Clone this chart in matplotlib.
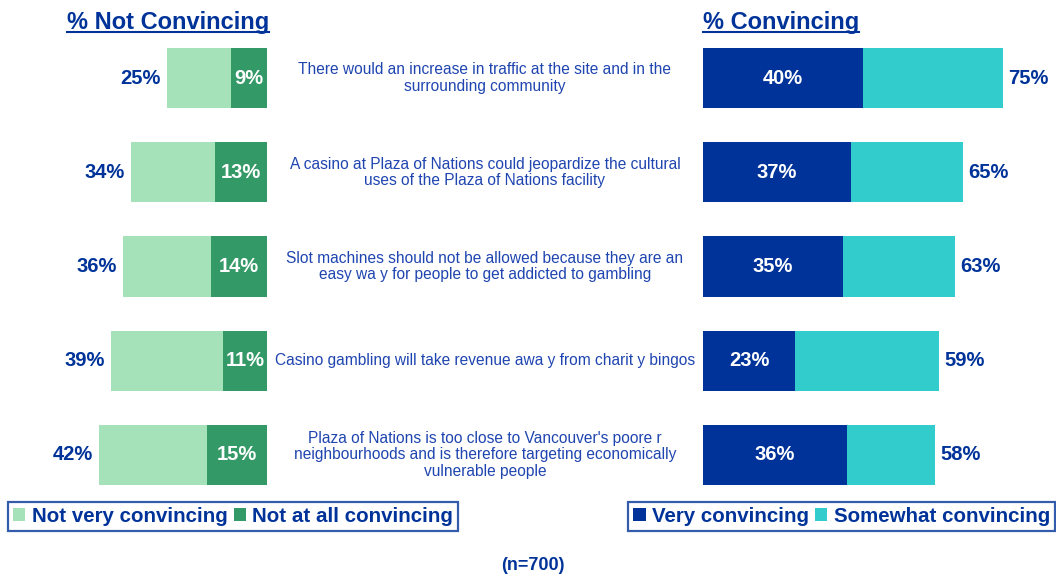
import matplotlib
matplotlib.use('Agg')
import matplotlib.pyplot as plt
from matplotlib.lines import Line2D

plt.rcParams['font.family'] = ['Liberation Sans', 'DejaVu Sans']

statements = [
    "There would an increase in traffic at the site and in the\nsurrounding community",
    "A casino at Plaza of Nations could jeopardize the cultural\nuses of the Plaza of Nations facility",
    "Slot machines should not be allowed because they are an\neasy wa y for people to get addicted to gambling",
    "Casino gambling will take revenue awa y from charit y bingos",
    "Plaza of Nations is too close to Vancouver's poore r\nneighbourhoods and is therefore targeting economically\nvulnerable people",
]
not_conv_total = [25, 34, 36, 39, 42]
not_at_all = [9, 13, 14, 11, 15]
very_conv = [40, 37, 35, 23, 36]
conv_total = [75, 65, 63, 59, 58]

BLUE = '#003399'
TXT = '#1f45b0'
LGREEN = '#a6e2b9'
DGREEN = '#339966'
CYAN = '#33cccc'

W, H = 1056, 576
fig = plt.figure(figsize=(W / 100, H / 100), dpi=100)

ypos = list(range(len(statements)))
ylim = (4 + 1.284, -0.828)
bh = 0.64
PFS = 14.5

# left panel: bars grow leftwards from x=267px
axl = fig.add_axes([0, 0, 267 / W, 1])
axl.set_xlim(267 / 4, 0)
axl.set_ylim(*ylim)
axl.barh(ypos, not_conv_total, height=bh, color=LGREEN, label='Not very convincing')
axl.barh(ypos, not_at_all, height=bh, color=DGREEN, label='Not at all convincing')
for y, t, d in zip(ypos, not_conv_total, not_at_all):
    axl.text(t + 1.5, y, f"{t}%", ha='right', va='center', color=BLUE,
             fontsize=PFS, fontweight='bold')
    axl.text(d / 2, y, f"{d}%", ha='center', va='center', color='white',
             fontsize=PFS, fontweight='bold')
axl.axis('off')

# right panel: bars grow rightwards from x=703px
axr = fig.add_axes([703 / W, 0, (W - 703) / W, 1])
axr.set_xlim(0, (W - 703) / 4)
axr.set_ylim(*ylim)
axr.barh(ypos, very_conv, height=bh, color=BLUE, label='Very convincing')
axr.barh(ypos, [c - v for c, v in zip(conv_total, very_conv)], left=very_conv,
         height=bh, color=CYAN, label='Somewhat convincing')
for y, t, v in zip(ypos, conv_total, very_conv):
    axr.text(t + 1.3, y, f"{t}%", ha='left', va='center', color=BLUE,
             fontsize=PFS, fontweight='bold')
    axr.text(v / 2, y, f"{v}%", ha='center', va='center', color='white',
             fontsize=PFS, fontweight='bold')
axr.axis('off')

# statements in the middle
axm = fig.add_axes([0, 0, 1, 1], zorder=-1)
axm.set_xlim(0, W)
axm.set_ylim(*ylim)
axm.axis('off')
for y, s in zip(ypos, statements):
    axm.text(485, y, s, ha='center', va='center', color=TXT, fontsize=11.2,
             linespacing=1.12, multialignment='center')

# titles
t1 = fig.text(67 / W, 1 - 29 / H, "% Not Convincing", color=BLUE, fontsize=17,
              fontweight='bold', ha='left', va='baseline')
t2 = fig.text(703 / W, 1 - 29 / H, "% Convincing", color=BLUE, fontsize=17,
              fontweight='bold', ha='left', va='baseline')

# legends
lg_kw = dict(ncol=2, frameon=True, fancybox=False, edgecolor=BLUE,
             handlelength=0.6, handleheight=0.6, handletextpad=0.3,
             columnspacing=0.3, borderpad=0.25, borderaxespad=0,
             prop={'weight': 'bold', 'size': 14.8})
h1, l1 = axl.get_legend_handles_labels()
leg1 = fig.legend(h1, l1, loc='upper left', bbox_to_anchor=(8 / W, 1 - 502 / H), **lg_kw)
h2, l2 = axr.get_legend_handles_labels()
leg2 = fig.legend(h2, l2, loc='upper right', bbox_to_anchor=(1055 / W, 1 - 502 / H), **lg_kw)
for lg in (leg1, leg2):
    lg.get_frame().set_linewidth(1.6)
    for tx in lg.get_texts():
        tx.set_color(BLUE)

fig.text(533 / W, 1 - 565 / H, "(n=700)", color=BLUE, fontsize=13,
         fontweight='bold', ha='center', va='center')

# underline titles
fig.canvas.draw()
r = fig.canvas.get_renderer()
for t in (t1, t2):
    bb = t.get_window_extent(r)
    yline = (1 - 32 / H)
    fig.add_artist(Line2D([bb.x0 / W, bb.x1 / W], [yline, yline], color=BLUE, lw=1.5))

fig.savefig('out.png', dpi=100)
